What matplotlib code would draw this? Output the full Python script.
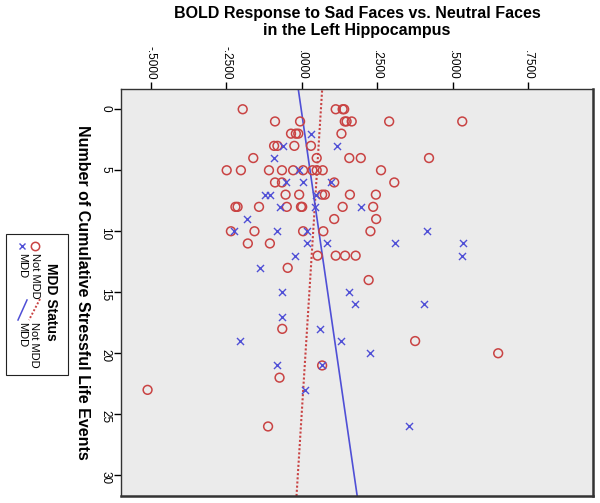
import numpy as np
import matplotlib.pyplot as plt
from matplotlib.lines import Line2D
from matplotlib.patches import Rectangle
from matplotlib.ticker import FuncFormatter

plt.rcParams['font.family'] = ['Liberation Sans', 'DejaVu Sans']

# Not MDD group (circles): stressful events, BOLD response
notmdd_events = [0, 0, 0, 0,
                 1, 1, 1, 1, 1, 1, 1,
                 2, 2, 2, 2,
                 3, 3, 3, 3,
                 4, 4, 4, 4, 4,
                 5, 5, 5, 5, 5, 5, 5, 5, 5, 5,
                 6, 6, 6, 6,
                 7, 7, 7, 7, 7, 7,
                 8, 8, 8, 8, 8, 8, 8, 8,
                 9, 9,
                 10, 10, 10, 10, 10,
                 11, 11,
                 12, 12, 12, 12,
                 13, 14, 18, 19, 20, 21, 22, 23, 26]
notmdd_bold = [-0.195, 0.113, 0.136, 0.141,
               -0.088, -0.005, 0.143, 0.149, 0.166, 0.290, 0.532,
               -0.035, -0.019, -0.011, 0.132,
               -0.091, -0.080, -0.024, 0.031,
               -0.160, 0.050, 0.158, 0.196, 0.422,
               -0.248, -0.201, -0.108, -0.065, -0.028, 0.005, 0.036, 0.050, 0.070, 0.263,
               -0.088, -0.065, 0.108, 0.307,
               -0.053, -0.008, 0.068, 0.077, 0.160, 0.246,
               -0.219, -0.212, -0.141, -0.049, -0.002, 0.002, 0.136, 0.237,
               0.108, 0.247,
               -0.234, -0.156, 0.005, 0.072, 0.228,
               -0.178, -0.105,
               0.053, 0.113, 0.144, 0.179,
               -0.046, 0.222, -0.064, 0.376, 0.651, 0.068, -0.073, -0.510, -0.111]

# MDD group (crosses)
mdd_events = [2, 3, 3, 4, 5,
              6, 6, 6,
              7, 7, 7,
              8, 8, 8,
              9,
              10, 10, 10, 10,
              11, 11, 11, 11,
              12, 12, 13,
              15, 15, 16, 16, 17, 18,
              19, 19, 20, 21, 21, 23, 26]
mdd_bold = [0.030, -0.063, 0.118, -0.091, -0.008,
            -0.050, 0.005, 0.096,
            -0.122, -0.105, 0.048,
            -0.070, 0.046, 0.196,
            -0.181,
            -0.223, -0.083, 0.017, 0.416,
            0.019, 0.085, 0.309, 0.533,
            -0.022, 0.532, -0.137,
            -0.064, 0.158, 0.176, 0.405, -0.064, 0.062,
            -0.204, 0.130, 0.227, -0.080, 0.068, 0.011, 0.357]

# fit lines: bold = intercept + slope * events
mdd_fit = (-0.0013, 0.00585)
notmdd_fit = (0.064, -0.00255)

x_ticks = [-0.5, -0.25, 0.0, 0.25, 0.5, 0.75]
y_ticks = [0, 5, 10, 15, 20, 25, 30]
x_lim = (-0.598, 0.965)
y_lim = (31.7, -1.66)

RED = '#C94343'
BLUE = '#4F4FD6'

fig = plt.figure(figsize=(6.0, 5.03), dpi=100)
ax = fig.add_axes([121/600, 1-496/503, 472/600, 407/503])
ax.set_facecolor('#EBEBEB')

ax.scatter(notmdd_bold, notmdd_events, s=40, facecolors='none', edgecolors=RED, linewidths=1.1, zorder=3)
ax.scatter(mdd_bold, mdd_events, s=26, marker='x', c=BLUE, linewidths=1.0, zorder=3)

ev = np.array(y_lim)
ax.plot(notmdd_fit[0] + notmdd_fit[1]*ev, ev, color=RED, lw=1.5, ls=(0, (1, 1)), zorder=2)
ax.plot(mdd_fit[0] + mdd_fit[1]*ev, ev, color=BLUE, lw=1.2, zorder=2)

ax.set_xlim(*x_lim)
ax.set_ylim(*y_lim)
ax.set_xticks(x_ticks)
ax.set_yticks(y_ticks)
ax.xaxis.set_major_formatter(FuncFormatter(lambda v, p: ('%.4f' % v).replace('0.', '.', 1)))
ax.xaxis.tick_top()
ax.tick_params(axis='x', top=True, bottom=False, labeltop=True, labelbottom=False,
               labelrotation=-90, labelsize=8.5, length=5, width=1, direction='out', pad=2)
ax.tick_params(axis='y', left=True, right=False, labelrotation=-90, labelsize=8.5,
               length=5, width=1, direction='out', pad=2)
for s in ax.spines.values():
    s.set_color('#333333')
    s.set_linewidth(1.0)
ax.spines['right'].set_linewidth(1.8)
ax.spines['bottom'].set_linewidth(1.8)

ax.set_ylabel('Number of Cumulative Stressful Life Events', rotation=-90, fontsize=11.5,
              fontweight='bold', labelpad=12, va='center')

fig.text(357/600, 1-22/503, 'BOLD Response to Sad Faces vs. Neutral Faces\nin the Left Hippocampus',
         ha='center', va='center', fontsize=11.5, fontweight='bold', linespacing=1.1)

# legend, drawn rotated like the source
def fx(px):
    return px/600

def fy(py):
    return 1 - py/503

tf = fig.transFigure
fig.patches.append(Rectangle((fx(6), fy(375)), 62/600, 141/503, transform=tf,
                             facecolor='white', edgecolor='#222222', lw=0.8))
fig.text(fx(51), fy(302), 'MDD Status', rotation=-90, ha='center', va='center',
         fontsize=10, fontweight='bold')
fig.add_artist(Line2D([fx(35)], [fy(246)], marker='o', ms=6, mfc='none', mec=RED, mew=1.1,
                      transform=tf))
fig.add_artist(Line2D([fx(22)], [fy(246)], marker='x', ms=5, mec=BLUE, mew=1.0, transform=tf))
fig.text(fx(35), fy(253), 'Not MDD', rotation=-90, ha='center', va='top', fontsize=8)
fig.text(fx(22), fy(253), 'MDD', rotation=-90, ha='center', va='top', fontsize=8)
fig.add_artist(Line2D([fx(40), fx(29)], [fy(299), fy(320)], color=RED, lw=1.4, ls=(0, (1, 1)),
                      transform=tf))
fig.add_artist(Line2D([fx(27), fx(18)], [fy(300), fy(320)], color=BLUE, lw=1.1, transform=tf))
fig.text(fx(34), fy(322), 'Not MDD', rotation=-90, ha='center', va='top', fontsize=8)
fig.text(fx(22), fy(322), 'MDD', rotation=-90, ha='center', va='top', fontsize=8)

fig.savefig('out.png', dpi=100)
